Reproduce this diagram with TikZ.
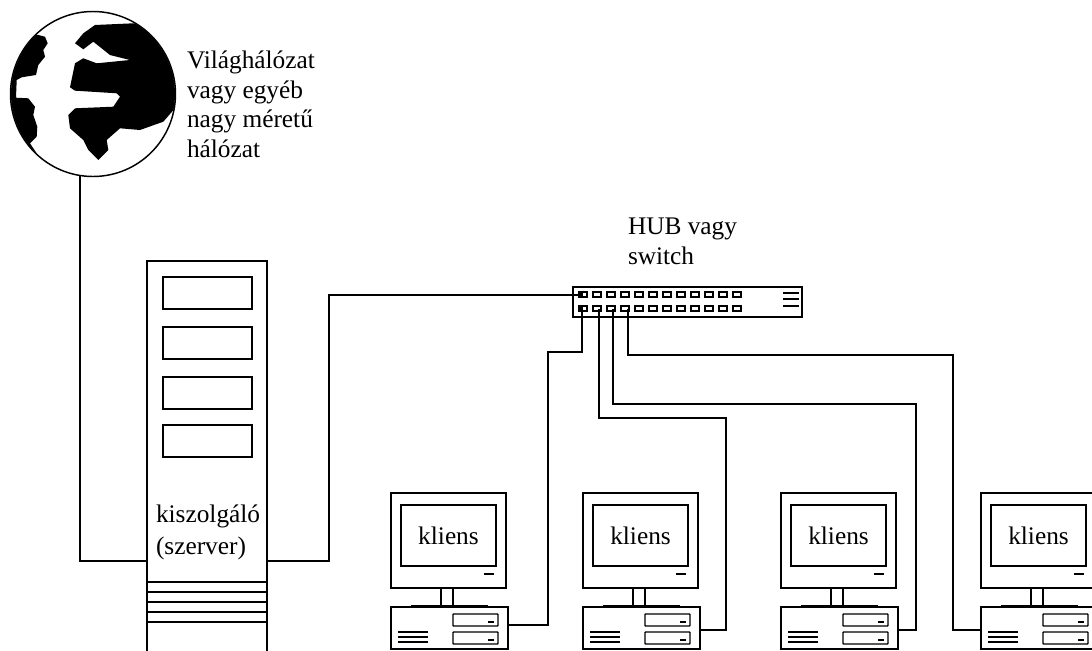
\documentclass[tikz,border=0pt]{standalone}
\usepackage{fontspec}
\setmainfont{Liberation Serif}
\usetikzlibrary{positioning, calc}

\begin{document}
\begin{tikzpicture}[x=0.75pt, y=-0.75pt, line width=1.1pt,
    device/.style={draw, fill=white, inner sep=0pt, outer sep=0pt, anchor=north west},
    port/.style={draw, inner sep=0pt, outer sep=0pt, anchor=north west, minimum width=6pt, minimum height=3.75pt},
    label/.style={inner sep=0pt, outer sep=0pt, align=left, anchor=north west, font=\fontsize{19}{22.2}\selectfont},
    cable/.style={line width=1.1pt}]

    % Bildgroesse wie im Original, alles darueber hinaus abschneiden
    \useasboundingbox (0,0) rectangle (1092,650);
    \clip (0,0) rectangle (1092,650);

    % --- Weltkugel ---
    \node[device, circle, anchor=center, minimum size=123.75pt] (globe) at (93,94) {};
    \begin{scope}
        \clip (93,94) circle [radius=82];
        % linker Kontinent
        \fill (38.3,35) -- (45,36.7) -- (47.7,43.3) -- (43.3,50) -- (45,56.7) -- (38.3,65) -- (36,75)
            -- (21.7,77.3) -- (16.7,80) -- (16,97.7) -- (28.3,98.3) -- (35,106.7) -- (33.3,115)
            -- (37.3,126.7) -- (36.7,136.7) -- (30,143.3) -- (40,158.3) -- (3,158) -- (3,33) -- cycle;
        % grosser Kontinent
        \fill (75,43.3) -- (83.3,33.3) -- (95,25) -- (133.3,23.3) -- (186,23) -- (186,110) -- (175,108.3)
            -- (163.3,121.7) -- (140,130) -- (120,128.3) -- (106.7,140) -- (108.3,150) -- (98.3,160)
            -- (88.3,150) -- (83.3,140) -- (70,128.3) -- (68.3,115) -- (75,108.3) -- (113.3,106.7)
            -- (120,96.7) -- (116.7,93.3) -- (75,90.7) -- (70,87.3) -- (75,63.3) -- (83.3,58.3)
            -- (96.7,63.3) -- (130,60) -- (110,55) -- (93.3,41.7) -- (83.3,49.3) -- cycle;
    \end{scope}
    \node[label] (globetext) at (187,51) {Világhálózat\\vagy egyéb\\nagy méretű\\hálózat};

    % --- Server ---
    \node[device, minimum width=90pt, minimum height=300pt] (server) at (147,261) {};
    \foreach \y in {277,327,377,425}
        \draw (163,\y) rectangle +(89,32);
    \foreach \y in {582,592,602,612,622}
        \draw (147,\y) -- (267,\y);
    \node[label, font=\fontsize{19}{24}\selectfont] (servertext) at (156,505) {kiszolgáló\\(szerver)};
    \coordinate (serverL) at (147,561);
    \coordinate (serverR) at (267,561);

    % --- Hub ---
    \node[device, minimum width=171.75pt, minimum height=22.5pt] (hub) at (573,287) {};
    \foreach \i in {1,...,12} {
        \node[port] (portA\i) at (579+14*\i-14,292) {};
        \node[port] (portB\i) at (579+14*\i-14,306) {};
    }
    \fill (portA1.north west) rectangle (portA1.south);
    \fill (portB1.north west) rectangle (portB1.south);
    \foreach \y in {293,299,306}
        \draw (783,\y) -- (799,\y);
    \node[label, font=\fontsize{19}{22.5}\selectfont] (hubtext) at (628,218) {HUB vagy\\switch};
    \coordinate (plugA) at (582,295);
    \foreach \n/\x in {1/582,2/599,3/613,4/628}
        \coordinate (plug\n) at (\x,309);

    % --- Clients ---
    \foreach \n/\x in {1/391,2/583,3/781,4/981} {
        \node[device, minimum width=86.25pt, minimum height=71.25pt] (monitor\n) at (\x,493) {};
        \node[device, minimum width=71.25pt, minimum height=45.75pt] (screen\n) at (\x+10,505) {};
        \node[font=\fontsize{19}{22}\selectfont, inner sep=0pt] (klient\n) at (screen\n) {kliens};
        \draw (\x+93,574) -- (\x+103,574);
        \draw (\x+50,588) -- (\x+50,606) (\x+62,588) -- (\x+62,606);
        \draw[line width=2.25pt] (\x+20,606) -- (\x+97,606);
        \node[device, minimum width=87.75pt, minimum height=31.5pt] (case\n) at (\x,607) {};
        \draw[rounded corners=0.5pt] (\x+62,614) rectangle (\x+107,626);
        \draw[rounded corners=0.5pt] (\x+62,632) rectangle (\x+107,644);
        \draw[line width=1.5pt] (\x+97,622) -- (\x+103,622) (\x+97,640) -- (\x+103,640);
        \foreach \y in {632,637,642}
            \draw (\x+7,\y) -- (\x+37,\y);
    }
    \coordinate (caseR1) at (508,625);
    \coordinate (caseR2) at (700,630);
    \coordinate (caseR3) at (898,630);
    \coordinate (caseL4) at (981,630);

    % --- Kabel ---
    \draw[cable] (globe.261) |- (serverL);
    \draw[cable] (serverR) -| (329,295) -- (plugA);
    \draw[cable] (plug1) |- (548,352) |- (caseR1);
    \draw[cable] (plug2) |- (726,418) |- (caseR2);
    \draw[cable] (plug3) |- (916,404) |- (caseR3);
    \draw[cable] (plug4) |- (953,355) |- (caseL4);

\end{tikzpicture}
\end{document}
